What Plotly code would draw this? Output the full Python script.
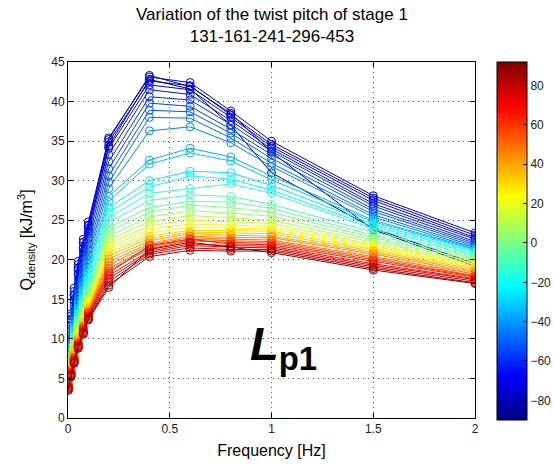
import numpy as np
import plotly.graph_objects as go

# ---------------- data ----------------
freq = [0.002, 0.015, 0.03, 0.05, 0.075, 0.1, 0.2, 0.4, 0.6, 0.8, 1.0, 1.5, 2.0]

angles = [-90, -86, -76, -72, -68, -64, -60, -56, -52, -48, -44, -36, -32, -25, -21,
          -14, -9, -4, 0, 5, 10, 15, 20, 25, 30, 35, 40, 45, 50, 55, 60, 65, 70,
          75, 80, 85, 90]

q_m90 = [8.4, 11.8, 14.9, 18.2, 21.4, 23.6, 34.4, 42.8, 41.6, 37.0, 31.0, 24.0, 19.5]
q_m85 = [9.0, 12.4, 15.6, 19.0, 22.2, 24.3, 35.2, 43.3, 41.9, 38.5, 33.6, 23.8, 19.2]
q_m80 = [9.8, 13.2, 16.4, 19.8, 22.6, 24.8, 35.4, 43.1, 42.4, 38.8, 35.0, 28.1, 23.4]
q_m75 = [9.5, 12.9, 16.0, 19.4, 22.2, 24.4, 34.9, 42.6, 42.0, 38.3, 34.6, 27.8, 23.1]
q_m70 = [9.1, 12.5, 15.5, 18.8, 21.6, 23.9, 34.1, 42.1, 41.5, 38.0, 34.3, 27.5, 22.8]
q_m65 = [8.7, 12.1, 15.0, 18.2, 21.0, 23.3, 33.3, 41.5, 40.9, 37.6, 34.0, 27.1, 22.6]
q_m60 = [8.4, 11.7, 14.6, 17.6, 20.4, 22.7, 32.4, 40.6, 40.2, 37.1, 33.7, 26.8, 22.3]
q_m55 = [8.1, 11.3, 14.1, 17.0, 19.8, 22.0, 31.5, 39.8, 39.4, 36.5, 33.3, 26.4, 22.1]
q_m50 = [7.8, 10.9, 13.6, 16.4, 19.1, 21.3, 30.6, 38.9, 38.7, 36.0, 32.8, 26.1, 21.9]
q_m45 = [7.5, 10.5, 13.1, 15.8, 18.4, 20.6, 29.8, 38.0, 37.9, 35.4, 32.2, 25.7, 21.7]
q_m40 = [7.3, 10.1, 12.6, 15.2, 17.8, 20.0, 29.0, 36.3, 36.8, 34.8, 31.8, 25.4, 21.5]
q_m35 = [7.1, 9.8, 12.2, 14.8, 17.2, 19.4, 28.0, 32.6, 34.1, 33.0, 30.6, 25.0, 21.4]
q_m30 = [6.9, 9.5, 11.9, 14.4, 16.7, 18.9, 27.4, 32.1, 33.5, 32.5, 30.1, 24.8, 21.3]
q_m25 = [6.7, 9.2, 11.5, 13.9, 16.2, 18.3, 26.6, 30.0, 31.2, 31.0, 29.4, 24.5, 21.2]
q_m20 = [6.5, 8.9, 11.2, 13.5, 15.8, 17.8, 26.0, 29.2, 30.6, 30.2, 28.8, 24.2, 21.0]
q_m15 = [6.3, 8.7, 10.9, 13.1, 15.3, 17.3, 25.3, 28.4, 29.0, 29.6, 28.4, 23.9, 20.8]
q_m10 = [6.1, 8.4, 10.6, 12.8, 14.9, 16.9, 24.7, 27.5, 28.2, 28.0, 27.0, 23.5, 20.6]
q_m05 = [5.9, 8.2, 10.3, 12.4, 14.5, 16.4, 24.1, 26.6, 27.4, 27.3, 26.5, 23.1, 20.4]
q_p00 = [5.7, 7.9, 10.0, 12.1, 14.1, 16.0, 23.6, 26.0, 26.9, 26.6, 26.0, 22.8, 20.2]
q_p05 = [5.5, 7.7, 9.7, 11.8, 13.8, 15.6, 23.0, 25.4, 26.2, 25.9, 25.5, 22.5, 20.0]
q_p10 = [5.3, 7.4, 9.4, 11.5, 13.4, 15.3, 22.5, 24.8, 25.6, 25.3, 25.0, 22.2, 19.8]
q_p15 = [5.1, 7.2, 9.2, 11.2, 13.1, 15.0, 22.1, 24.3, 25.0, 24.8, 24.6, 21.9, 19.6]
q_p20 = [4.9, 7.0, 9.0, 10.9, 12.8, 14.7, 21.7, 23.9, 24.5, 24.4, 24.2, 21.7, 19.4]
q_p25 = [4.8, 6.8, 8.8, 10.6, 12.5, 14.4, 21.3, 23.4, 24.1, 24.0, 23.9, 21.5, 19.2]
q_p30 = [4.6, 6.6, 8.5, 10.3, 12.2, 14.1, 20.9, 23.0, 23.7, 23.7, 23.6, 21.3, 19.0]
q_p35 = [4.5, 6.4, 8.3, 10.1, 12.0, 13.9, 20.5, 22.7, 23.5, 23.4, 23.3, 21.1, 18.8]
q_p40 = [4.4, 6.2, 8.1, 9.9, 11.8, 13.7, 20.1, 22.4, 23.3, 23.1, 23.0, 20.9, 18.6]
q_p45 = [4.3, 6.1, 7.9, 9.7, 11.6, 13.5, 19.7, 22.1, 23.0, 22.8, 22.8, 20.7, 18.4]
q_p50 = [4.2, 6.0, 7.7, 9.6, 11.5, 13.4, 19.3, 21.9, 22.8, 22.6, 22.5, 20.4, 18.2]
q_p55 = [4.1, 5.9, 7.6, 9.5, 11.4, 13.3, 18.9, 21.6, 22.6, 22.4, 22.3, 20.2, 18.0]
q_p60 = [4.0, 5.8, 7.5, 9.4, 11.3, 13.2, 18.6, 21.4, 22.4, 22.2, 22.1, 20.0, 17.9]
q_p65 = [4.0, 5.7, 7.4, 9.3, 11.2, 13.1, 18.3, 21.8, 22.6, 22.0, 21.9, 19.8, 17.8]
q_p70 = [3.9, 5.6, 7.3, 9.2, 11.0, 12.9, 18.0, 21.1, 22.0, 21.8, 21.7, 19.5, 17.6]
q_p75 = [3.8, 5.5, 7.2, 9.1, 10.9, 12.8, 17.6, 20.9, 21.8, 21.6, 21.5, 19.3, 17.5]
q_p80 = [3.7, 5.4, 7.1, 9.0, 10.8, 12.6, 17.2, 20.7, 21.5, 21.3, 21.3, 19.1, 17.3]
q_p85 = [3.6, 5.3, 7.0, 8.9, 10.7, 12.5, 16.8, 20.4, 21.2, 21.1, 21.1, 18.9, 17.1]
q_p90 = [3.5, 5.2, 6.9, 8.8, 10.6, 12.4, 16.5, 21.3, 22.2, 21.6, 20.9, 18.7, 17.0]

series = [q_m90, q_m85, q_m80, q_m75, q_m70, q_m65, q_m60, q_m55, q_m50, q_m45,
          q_m40, q_m35, q_m30, q_m25, q_m20, q_m15, q_m10, q_m05, q_p00, q_p05,
          q_p10, q_p15, q_p20, q_p25, q_p30, q_p35, q_p40, q_p45, q_p50, q_p55,
          q_p60, q_p65, q_p70, q_p75, q_p80, q_p85, q_p90]

cbar_ticks = [-80, -60, -40, -20, 0, 20, 40, 60, 80]
x_ticks = [0, 0.5, 1, 1.5, 2]
y_ticks = list(range(0, 46, 5))
CMIN, CMAX = -90, 92

# ---------------- colormap (MATLAB jet) ----------------
jet_pos = [0.0, 0.125, 0.375, 0.625, 0.875, 1.0]
jet_rgb = [(0, 0, 128), (0, 0, 255), (0, 255, 255), (255, 255, 0), (255, 0, 0), (128, 0, 0)]
jet_scale = [[p, "rgb(%d,%d,%d)" % c] for p, c in zip(jet_pos, jet_rgb)]


def jet_color(v):
    t = (v - CMIN) / (CMAX - CMIN)
    t = min(max(t, 0), 1)
    r = np.interp(t, jet_pos, [c[0] for c in jet_rgb])
    g = np.interp(t, jet_pos, [c[1] for c in jet_rgb])
    b = np.interp(t, jet_pos, [c[2] for c in jet_rgb])
    return "rgb(%d,%d,%d)" % (round(r), round(g), round(b))


FONT = "Liberation Sans, Arial, sans-serif"

fig = go.Figure()
for ang, vals in zip(angles, series):
    col = jet_color(ang)
    fig.add_trace(go.Scatter(
        x=freq, y=vals, mode="lines+markers",
        line=dict(color=col, width=1),
        marker=dict(symbol="circle-open", size=8, color=col, line=dict(width=1, color=col)),
        showlegend=False, hoverinfo="skip"))

# colorbar carrier
fig.add_trace(go.Scatter(
    x=[None], y=[None], mode="markers", showlegend=False,
    marker=dict(color=[0], cmin=CMIN, cmax=CMAX, colorscale=jet_scale, showscale=True,
                colorbar=dict(
                    x=(497 - 68) / 407, xanchor="left", xref="paper",
                    y=(418 - 241) / 356, yanchor="middle",
                    thickness=30, thicknessmode="pixels",
                    len=358, lenmode="pixels",
                    outlinewidth=1, outlinecolor="black",
                    xpad=0, ypad=0,
                    tickvals=cbar_ticks, ticks="inside", ticklen=4, tickcolor="black",
                    tickfont=dict(family=FONT, size=12, color="#222"),
                ))))

fig.update_xaxes(range=[0, 2], tickvals=x_ticks, ticktext=["0", "0.5", "1", "1.5", "2"],
                 showline=True, linecolor="black", linewidth=1, mirror="ticks",
                 ticks="inside", ticklen=5, tickcolor="black",
                 showgrid=True, gridcolor="#555", gridwidth=1, griddash="1px,4px",
                 zeroline=False, tickfont=dict(family=FONT, size=12, color="#222"),
                 title=dict(text="Frequency [Hz]", font=dict(family=FONT, size=16, color="black"),
                            standoff=9))
fig.update_yaxes(range=[0, 45], tickvals=y_ticks,
                 showline=True, linecolor="black", linewidth=1, mirror="ticks",
                 ticks="inside", ticklen=5, tickcolor="black",
                 showgrid=True, gridcolor="#555", gridwidth=1, griddash="1px,4px",
                 zeroline=False, tickfont=dict(family=FONT, size=12, color="#222"),
                 title=dict(text="Q<sub>density</sub> [kJ/m<sup>3</sup>]",
                            font=dict(family=FONT, size=16, color="black"), standoff=14))

fig.add_annotation(x=1.06, y=9.0, xref="x", yref="y", showarrow=False,
                   text="<b><i>L</i></b><b><sub>p1</sub></b>",
                   font=dict(family=FONT, size=47, color="black"),
                   xanchor="center", yanchor="middle")

fig.add_annotation(x=0.5, y=1, xref="paper", yref="paper", yshift=62 - 3, showarrow=False,
                   text="Variation of the twist pitch of stage 1<br>131-161-241-296-453",
                   font=dict(family=FONT, size=17, color="black"),
                   xanchor="center", yanchor="top")

fig.update_layout(width=553, height=467,
                  margin=dict(l=68, r=78, t=62, b=49, autoexpand=False),
                  paper_bgcolor="white", plot_bgcolor="white",
                  font=dict(family=FONT))

fig.write_html("out.html")
